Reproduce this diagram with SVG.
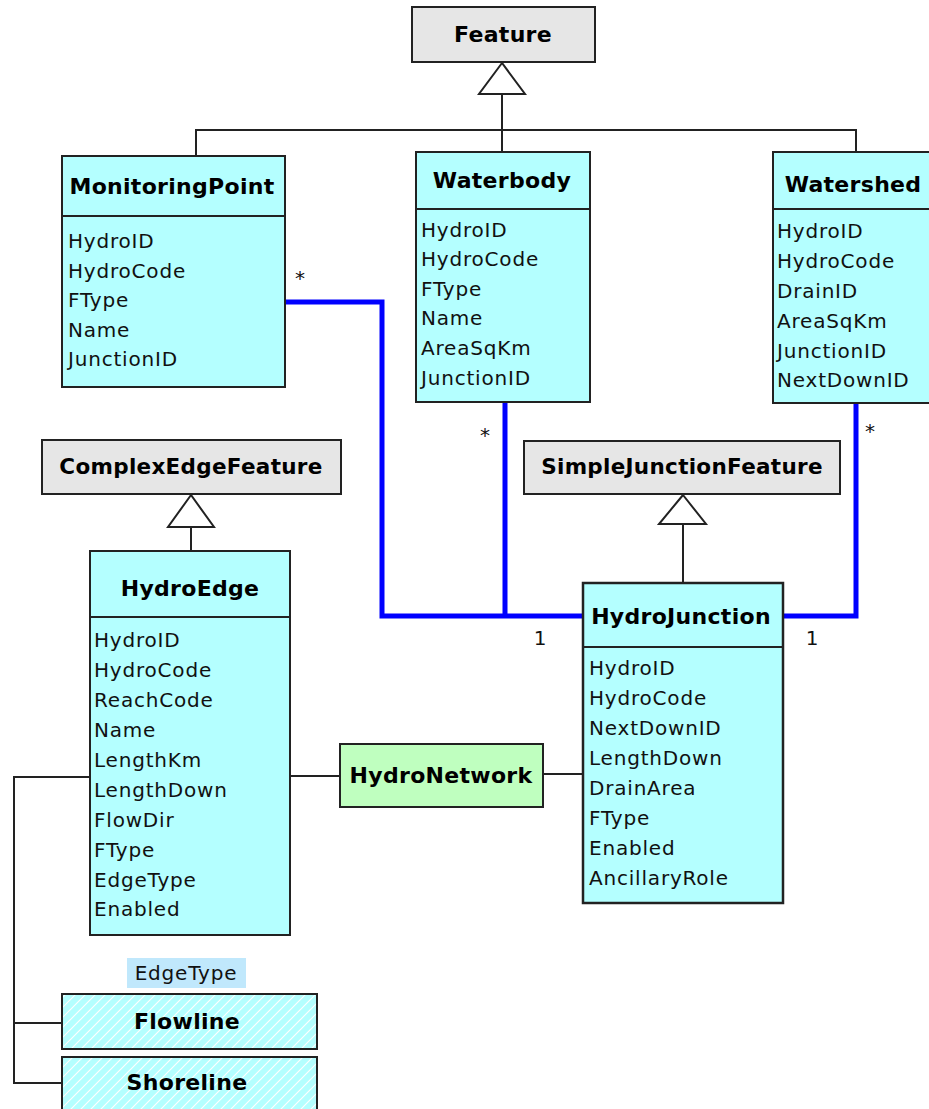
<svg xmlns="http://www.w3.org/2000/svg" width="929" height="1109" viewBox="0 0 929 1109">
<style>
.cls{fill:#b4ffff;stroke:#222;stroke-width:2}
.base{fill:#e6e6e6;stroke:#222;stroke-width:2}
.net{fill:#bfffbf;stroke:#222;stroke-width:2}
.div{stroke:#222;stroke-width:2}
.t{font-family:"DejaVu Sans",sans-serif;font-weight:bold;font-size:22px;letter-spacing:0.3px;fill:#000;text-anchor:middle}
.a{font-family:"DejaVu Sans",sans-serif;font-size:20px;letter-spacing:0.8px;fill:#111}
.m{font-family:"DejaVu Sans",sans-serif;font-size:20px;fill:#111;text-anchor:middle}
.ln{fill:none;stroke:#222;stroke-width:2}
.bl{fill:none;stroke:#0000ff;stroke-width:5}
.tri{fill:#fff;stroke:#222;stroke-width:2}
</style>
<defs>
<pattern id="hatch" patternUnits="userSpaceOnUse" width="10" height="10">
<rect width="10" height="10" fill="#b4ffff"/>
<path d="M-2,12 L12,-2 M-2,2 L2,-2 M8,12 L12,8" stroke="#ffffff" stroke-width="1.2"/>
</pattern>
</defs>
<rect width="929" height="1109" fill="#ffffff"/>

<g id="connectors">
<path class="ln" d="M502,94 L502,152"/>
<path class="ln" d="M196,156 L196,130 L856,130 L856,152"/>
<polygon class="tri" points="502,63 479,94 525,94"/>
<path class="ln" d="M191,527 L191,551"/>
<polygon class="tri" points="191,495 168,527 214,527"/>
<path class="ln" d="M683,524 L683,583"/>
<polygon class="tri" points="683,495 659,524 706,524"/>
<path class="ln" d="M290,776 L340,776"/>
<path class="ln" d="M543,774 L583,774"/>
<path class="ln" d="M90,777 L14,777 L14,1083 L62,1083"/>
<path class="ln" d="M14,1023 L62,1023"/>
<path class="bl" d="M285,302 L382,302 L382,616 L583,616"/>
<path class="bl" d="M505,403 L505,616"/>
<path class="bl" d="M783,616 L856,616 L856,403"/>
<text class="m" x="300" y="285">*</text>
<text class="m" x="485" y="442">*</text>
<text class="m" x="870" y="438">*</text>
<text class="m" x="540" y="645">1</text>
<text class="m" x="812" y="645">1</text>
</g>

<g id="Feature">
<rect class="base" x="412" y="7" width="183" height="55"/>
<text class="t" x="503" y="42">Feature</text>
</g>

<g id="MonitoringPoint">
<rect class="cls" x="62" y="156" width="223" height="231"/>
<line class="div" x1="62" y1="216" x2="285" y2="216"/>
<text class="t" x="172" y="194">MonitoringPoint</text>
<text class="a" x="68" y="248">HydroID</text>
<text class="a" x="68" y="278">HydroCode</text>
<text class="a" x="68" y="307">FType</text>
<text class="a" x="68" y="337">Name</text>
<text class="a" x="68" y="366">JunctionID</text>
</g>

<g id="Waterbody">
<rect class="cls" x="416" y="152" width="174" height="250"/>
<line class="div" x1="416" y1="209" x2="590" y2="209"/>
<text class="t" x="502" y="188">Waterbody</text>
<text class="a" x="421" y="237">HydroID</text>
<text class="a" x="421" y="266">HydroCode</text>
<text class="a" x="421" y="296">FType</text>
<text class="a" x="421" y="325">Name</text>
<text class="a" x="421" y="355">AreaSqKm</text>
<text class="a" x="421" y="385">JunctionID</text>
</g>

<g id="Watershed">
<rect class="cls" x="773" y="152" width="160" height="251"/>
<line class="div" x1="773" y1="209" x2="933" y2="209"/>
<text class="t" x="853" y="192">Watershed</text>
<text class="a" x="777" y="238">HydroID</text>
<text class="a" x="777" y="268">HydroCode</text>
<text class="a" x="777" y="298">DrainID</text>
<text class="a" x="777" y="328">AreaSqKm</text>
<text class="a" x="777" y="358">JunctionID</text>
<text class="a" x="777" y="387">NextDownID</text>
</g>

<g id="ComplexEdgeFeature">
<rect class="base" x="42" y="440" width="299" height="54"/>
<text class="t" x="191" y="474" style="font-size:21.5px">ComplexEdgeFeature</text>
</g>

<g id="SimpleJunctionFeature">
<rect class="base" x="524" y="441" width="316" height="53"/>
<text class="t" x="682" y="474" style="font-size:21.5px">SimpleJunctionFeature</text>
</g>

<g id="HydroEdge">
<rect class="cls" x="90" y="551" width="200" height="384"/>
<line class="div" x1="90" y1="617" x2="290" y2="617"/>
<text class="t" x="190" y="596">HydroEdge</text>
<text class="a" x="94" y="647">HydroID</text>
<text class="a" x="94" y="677">HydroCode</text>
<text class="a" x="94" y="707">ReachCode</text>
<text class="a" x="94" y="737">Name</text>
<text class="a" x="94" y="767">LengthKm</text>
<text class="a" x="94" y="797">LengthDown</text>
<text class="a" x="94" y="827">FlowDir</text>
<text class="a" x="94" y="857">FType</text>
<text class="a" x="94" y="887">EdgeType</text>
<text class="a" x="94" y="916">Enabled</text>
</g>

<g id="HydroJunction">
<rect class="cls" x="583" y="583" width="200" height="320" style="stroke-width:2.5"/>
<line class="div" x1="583" y1="647" x2="783" y2="647"/>
<text class="t" x="681" y="624">HydroJunction</text>
<text class="a" x="589" y="675">HydroID</text>
<text class="a" x="589" y="705">HydroCode</text>
<text class="a" x="589" y="735">NextDownID</text>
<text class="a" x="589" y="765">LengthDown</text>
<text class="a" x="589" y="795">DrainArea</text>
<text class="a" x="589" y="825">FType</text>
<text class="a" x="589" y="855">Enabled</text>
<text class="a" x="589" y="885">AncillaryRole</text>
</g>

<g id="HydroNetwork">
<rect class="net" x="340" y="744" width="203" height="63"/>
<text class="t" x="441" y="783">HydroNetwork</text>
</g>

<g id="EdgeTypeLabel">
<rect x="127" y="958" width="119" height="30" fill="#c0e8fc"/>
<text class="a" x="186" y="980" style="text-anchor:middle">EdgeType</text>
</g>

<g id="Flowline">
<rect x="62" y="994" width="255" height="55" fill="url(#hatch)" stroke="#222" stroke-width="2"/>
<text class="t" x="187" y="1029">Flowline</text>
</g>

<g id="Shoreline">
<rect x="62" y="1057" width="255" height="60" fill="url(#hatch)" stroke="#222" stroke-width="2"/>
<text class="t" x="187" y="1090">Shoreline</text>
</g>
</svg>
